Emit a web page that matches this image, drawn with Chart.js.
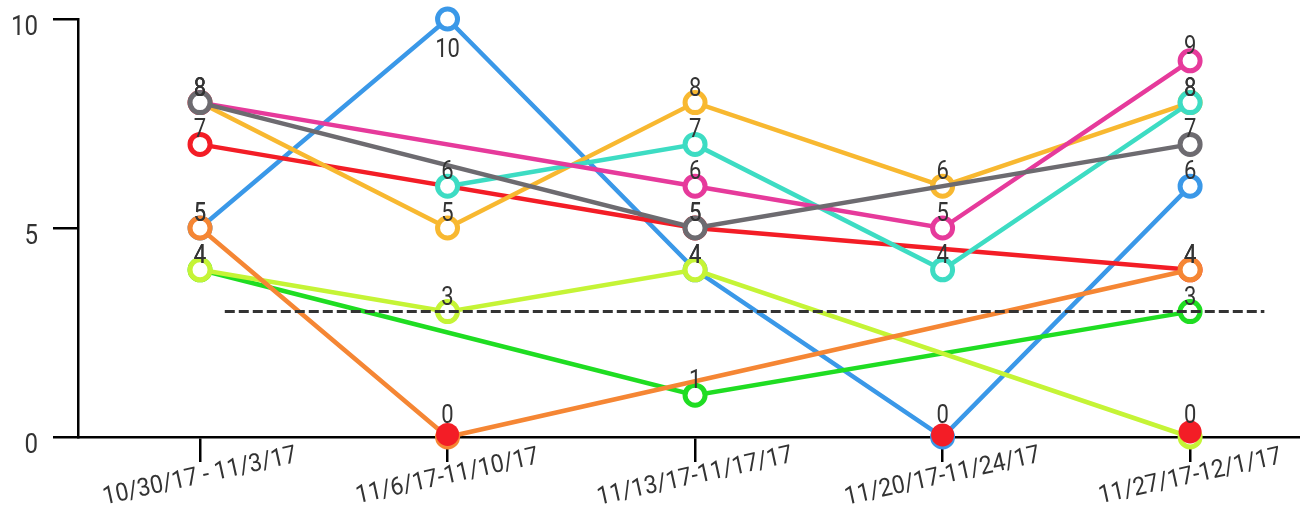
<!DOCTYPE html>
<html><head><meta charset="utf-8">
<script src="https://cdn.jsdelivr.net/npm/chart.js@4.4.0/dist/chart.umd.min.js"></script>
<style>html,body{margin:0;padding:0;background:#fff;overflow:hidden;}</style>
</head><body>
<canvas id="c" width="1300" height="516" style="display:block;width:1300px;height:516px"></canvas>
<script>
const categories = ['10/30/17 - 11/3/17','11/6/17-11/10/17','11/13/17-11/17/17','11/20/17-11/24/17','11/27/17-12/1/17'];
const blueValues   = [5, 10, 4, 0, 6];
const greenValues  = [4, null, 1, null, 3];
const redValues    = [7, null, 5, null, 4];
const goldValues   = [8, 5, 8, 6, 8];
const limeValues   = [4, 3, 4, null, 0];
const orangeValues = [5, 0, null, null, 4];
const tealValues   = [null, 6, 7, 4, 8];
const pinkValues   = [8, null, 6, 5, 9];
const grayValues   = [8, null, 5, null, 7];
const zeroMarkValues = [null, 0.06, null, 0.05, 0.12];
const thresholdValue = 3;
const thresholdRange = [0.1, 4.3];
const yTickValues = [0, 5, 10];

const FONT = "Roboto,'Noto Sans',sans-serif";
const TEXT = '#333333';

// top-most first (Chart.js draws index 0 last)
const series = [
  {values: grayValues,   color: '#6d6b70'},
  {values: pinkValues,   color: '#e63a9b'},
  {values: tealValues,   color: '#3ddcc3'},
  {values: orangeValues, color: '#f58634'},
  {values: limeValues,   color: '#c5f436'},
  {values: goldValues,   color: '#f8b830'},
  {values: redValues,    color: '#f31d26'},
  {values: greenValues,  color: '#1fdd22'},
  {values: blueValues,   color: '#3a98e8'}
];

const toPoints = vals => vals.map((v, i) => ({x: i, y: v}));

const datasets = [];
datasets.push({
  label: 'threshold',
  data: [{x: thresholdRange[0], y: thresholdValue}, {x: thresholdRange[1], y: thresholdValue}],
  borderColor: '#333333', borderWidth: 3, borderDash: [10, 4],
  pointRadius: 0, fill: false, clip: false, isLabelled: false
});
datasets.push({
  label: 'zero',
  data: toPoints(zeroMarkValues),
  showLine: false, pointRadius: 11.5, pointHoverRadius: 11.5,
  pointBackgroundColor: '#f31d26', pointBorderWidth: 0, borderWidth: 0,
  clip: false, isLabelled: false
});
series.forEach((s, k) => {
  datasets.push({
    label: 's' + k,
    data: toPoints(s.values),
    borderColor: s.color, borderWidth: 4.5,
    pointRadius: 10, pointHoverRadius: 10, pointBorderWidth: 5,
    pointBorderColor: s.color, pointBackgroundColor: '#ffffff',
    spanGaps: true, tension: 0, fill: false, clip: false, isLabelled: true
  });
});

function condensedText(ctx, text, x, y, sx, angle) {
  ctx.save();
  ctx.translate(x, y);
  if (angle) ctx.rotate(angle);
  ctx.scale(sx, 1);
  ctx.fillText(text, 0, 0);
  ctx.restore();
}

const labelPlugin = {
  id: 'valueLabels',
  afterDatasetsDraw(chart) {
    const ctx = chart.ctx;
    ctx.save();
    ctx.font = '25px ' + FONT;
    ctx.fillStyle = TEXT;
    ctx.textAlign = 'center';
    ctx.textBaseline = 'alphabetic';
    chart.data.datasets.forEach((ds, di) => {
      if (!ds.isLabelled) return;
      const meta = chart.getDatasetMeta(di);
      meta.data.forEach((pt, i) => {
        const v = ds.data[i].y;
        if (v === null || v === undefined) return;
        let y;
        if (v >= 10) y = pt.y + 38;
        else if (v === 0) y = pt.y - 14;
        else y = pt.y - 7;
        condensedText(ctx, String(v), pt.x, y, 0.88, 0);
      });
    });
    ctx.restore();
  },
  afterDraw(chart) {
    const ctx = chart.ctx;
    const xs = chart.scales.x, ys = chart.scales.y;
    ctx.save();
    ctx.fillStyle = TEXT;
    // y tick labels
    ctx.font = '28px ' + FONT;
    ctx.textAlign = 'right';
    ctx.textBaseline = 'alphabetic';
    yTickValues.forEach(v => {
      const y = ys.getPixelForValue(v);
      condensedText(ctx, String(v), 38, y + 15.5, 0.86, 0);
    });
    // x category labels
    ctx.font = '25px ' + FONT;
    ctx.textAlign = 'center';
    ctx.textBaseline = 'middle';
    categories.forEach((c, i) => {
      const x = xs.getPixelForValue(i);
      condensedText(ctx, c, x, 477, 0.92, -12.5 * Math.PI / 180);
    });
    ctx.restore();
  }
};

new Chart(document.getElementById('c'), {
  type: 'line',
  data: {datasets},
  options: {
    responsive: false,
    devicePixelRatio: 1,
    animation: false,
    events: [],
    layout: {autoPadding: false, padding: {top: 19, right: 0, left: 0, bottom: 0}},
    plugins: {legend: {display: false}, tooltip: {enabled: false}},
    scales: {
      x: {
        type: 'linear',
        min: -0.493, max: 4.444,
        afterBuildTicks: s => { s.ticks = categories.map((_, i) => ({value: i})); },
        afterFit: s => { s.height = 79; },
        ticks: {display: false},
        grid: {drawOnChartArea: false, drawTicks: true, tickLength: 25, color: '#000', lineWidth: 2.5},
        border: {display: true, color: '#000', width: 2.5}
      },
      y: {
        min: 0, max: 10,
        afterBuildTicks: s => { s.ticks = yTickValues.map(v => ({value: v})); },
        afterFit: s => { s.width = 78; },
        ticks: {display: false},
        grid: {drawOnChartArea: false, drawTicks: true, tickLength: 25, color: '#000', lineWidth: 2.5},
        border: {display: true, color: '#000', width: 2.5}
      }
    }
  },
  plugins: [labelPlugin]
});
</script>
</body></html>
